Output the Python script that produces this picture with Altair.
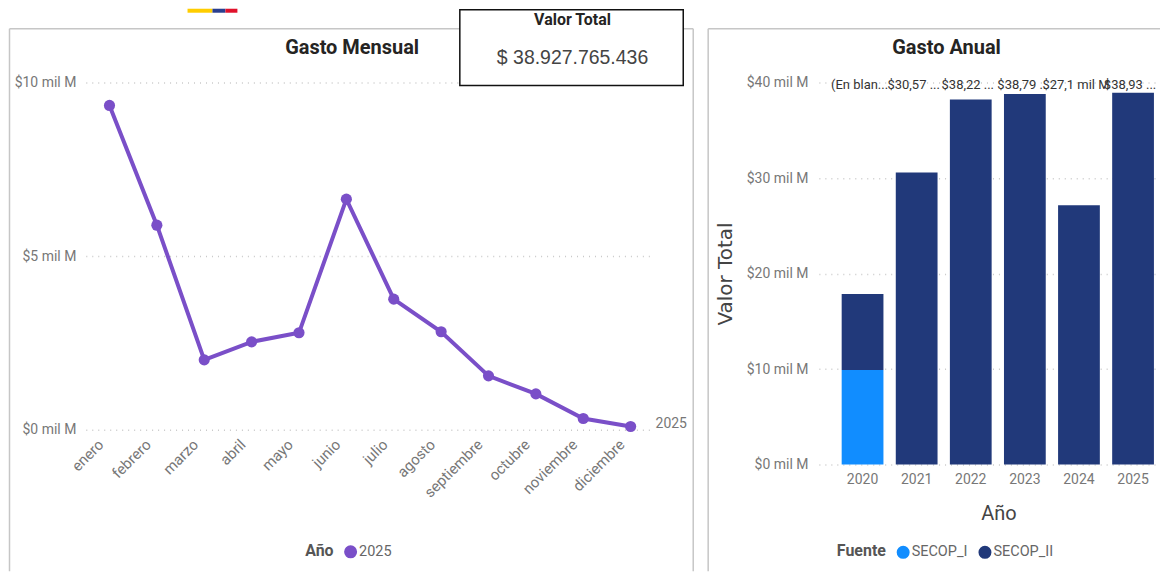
import altair as alt
import pandas as pd

FONT = "Roboto"

meses = ["enero", "febrero", "marzo", "abril", "mayo", "junio", "julio", "agosto",
         "septiembre", "octubre", "noviembre", "diciembre"]
gasto_mensual = [9.34, 5.89, 2.01, 2.53, 2.79, 6.64, 3.76, 2.82, 1.55, 1.03, 0.32, 0.09]

anios = ["2020", "2021", "2022", "2023", "2024", "2025"]
secop_i = [9.9, 0, 0, 0, 0, 0]
secop_ii = [7.95, 30.57, 38.22, 38.79, 27.15, 38.93]
etiquetas = ["(En blan...", "$30,57 ...", "$38,22 ...", "$38,79 ..", "$27,1 mil M", "$38,93 ..."]

GRID = "#c9c9c9"
LABEL = "#777777"
FRAME = "#c6c6c6"
PURPLE = "#7A4FC8"
NAVY = "#21397A"
BLUE = "#118DFF"

one = pd.DataFrame({"k": [0]})


def rule(x, y, x2, y2, color=FRAME, opacity=1, width=1.5):
    return alt.Chart(one).mark_rule(color=color, strokeWidth=width, opacity=opacity).encode(
        x=alt.value(x), y=alt.value(y), x2=alt.value(x2), y2=alt.value(y2))


def rect(x, y, x2, y2, fill, stroke=None, sw=0):
    kw = dict(fill=fill, strokeWidth=sw)
    if stroke:
        kw["stroke"] = stroke
    return alt.Chart(one).mark_rect(**kw).encode(
        x=alt.value(x), y=alt.value(y), x2=alt.value(x2), y2=alt.value(y2))


def label(text, x, y, size, color, weight="normal", font=FONT):
    return alt.Chart(pd.DataFrame({"t": [text]})).mark_text(
        font=font, fontSize=size, color=color, fontWeight=weight, align="center", baseline="middle"
    ).encode(x=alt.value(x), y=alt.value(y), text="t:N")


def yaxis(values, pad, **kw):
    return alt.Axis(values=values, labelExpr="'$' + datum.value + ' mil M'", domain=False, ticks=False,
                    gridDash=[1, 5], gridColor=GRID, gridWidth=1.5, labelColor=LABEL, labelFont=FONT,
                    labelFontSize=14, labelPadding=pad, **kw)


def leyenda(x):
    return alt.Legend(orient="none", legendX=x, legendY=463, direction="horizontal",
                      titleOrient="left", symbolType="circle", symbolSize=170,
                      titleFont=FONT, titleFontSize=16, titleColor="#555555", titleFontWeight="bold",
                      labelFont=FONT, labelFontSize=14.5, labelColor="#666666", titlePadding=9,
                      labelOffset=1)


# ---- left panel ----
mensual = pd.DataFrame({"mes": meses, "valor": gasto_mensual, "Año": ["2025"] * 12})
xm = alt.X("mes:N", sort=meses, scale=alt.Scale(type="point", padding=0.5),
           axis=alt.Axis(title=None, domain=False, ticks=False, grid=False, labelAngle=-45, labelAlign="right",
                         labelBaseline="middle", labelColor=LABEL, labelFont=FONT, labelFontSize=15,
                         labelPadding=12, labelOffset=-9))
ym = alt.Y("valor:Q", scale=alt.Scale(domain=[0, 10], nice=False), axis=yaxis([0, 5, 10], 10, title=None))

linea = alt.Chart(mensual).mark_line(color=PURPLE, strokeWidth=4).encode(x=xm, y=ym)
puntos = alt.Chart(mensual).mark_point(filled=True, size=125, opacity=1).encode(
    x=xm, y=ym,
    color=alt.Color("Año:N", scale=alt.Scale(range=[PURPLE]), legend=leyenda(220)))
fin = alt.Chart(mensual[mensual.mes == "diciembre"]).mark_text(
    font=FONT, fontSize=14, color=LABEL, align="left", dx=25, dy=-3
).encode(x=xm, y=ym, text="Año:N")

left = alt.layer(
    rule(-76.5, -54, 609, -54), rule(-76.5, -54, -76.5, 490), rule(609, -54, 609, 490),
    alt.Chart(one).mark_rule(opacity=0).encode(y=alt.value(-74)),
    linea, puntos, fin,
    rect(102, -74, 127, -70, "#FFCD00"), rect(127, -74, 140, -70, "#2A3F8F"), rect(140, -74, 152, -70, "#E0112B"),
    label("Gasto Mensual", 267, -35, 20, "#252423", "bold"),
    rect(375, -73, 599, 3, "white", "#111111", 1.5),
    label("Valor Total", 488, -63, 16, "#252423", "bold"),
    label("$ 38.927.765.436", 488, -25, 19.5, "#444444", font="Liberation Sans"),
).properties(width=570, height=348)

# ---- right panel ----
anual = pd.DataFrame({
    "Año": anios * 2,
    "valor": secop_i + secop_ii,
    "Fuente": ["SECOP_I"] * 6 + ["SECOP_II"] * 6,
    "orden": [0] * 6 + [1] * 6,
})
xa = alt.X("Año:N", sort=anios,
           scale=alt.Scale(paddingInner=0.228, paddingOuter=0.2666, align=0.79),
           axis=alt.Axis(title="Año", titleFont=FONT, titleFontSize=20, titleColor="#444444",
                         titleFontWeight="normal", titlePadding=17, titleX=180, domain=False, ticks=False, grid=False,
                         labelAngle=0, labelColor=LABEL, labelFont=FONT, labelFontSize=14, labelPadding=8))
ya = alt.Y("valor:Q", stack="zero", scale=alt.Scale(domain=[0, 40], nice=False),
           axis=yaxis([0, 10, 20, 30, 40], 11, title="Valor Total", titleFont="DejaVu Sans", titleFontSize=20,
                      titleColor="#444444", titleFontWeight="normal", titlePadding=11))
barras = alt.Chart(anual).mark_bar().encode(
    x=xa, y=ya, order=alt.Order("orden:Q"),
    color=alt.Color("Fuente:N", scale=alt.Scale(domain=["SECOP_I", "SECOP_II"], range=[BLUE, NAVY]),
                    legend=leyenda(18)))
textos = alt.Chart(pd.DataFrame({"Año": anios, "t": etiquetas})).mark_text(
    font=FONT, fontSize=13, color="#333333", align="center", baseline="middle", dx=-3
).encode(x=alt.X("Año:N", sort=anios), y=alt.value(2), text="t:N")

right = alt.layer(
    rule(-111, -54, 342, -54), rule(-111, -54, -111, 490),
    alt.Chart(one).mark_rule(opacity=0).encode(y=alt.value(-74)),
    barras, textos,
    label("Gasto Anual", 128, -35, 20, "#252423", "bold"),
).properties(width=342, height=383)

chart = (alt.hconcat(left, right, spacing=13)
         .resolve_scale(color="independent")
         .configure_view(strokeWidth=0)
         .properties(padding=0, background="white"))
chart.save("out.html", embed_options={"renderer": "svg", "actions": False})
